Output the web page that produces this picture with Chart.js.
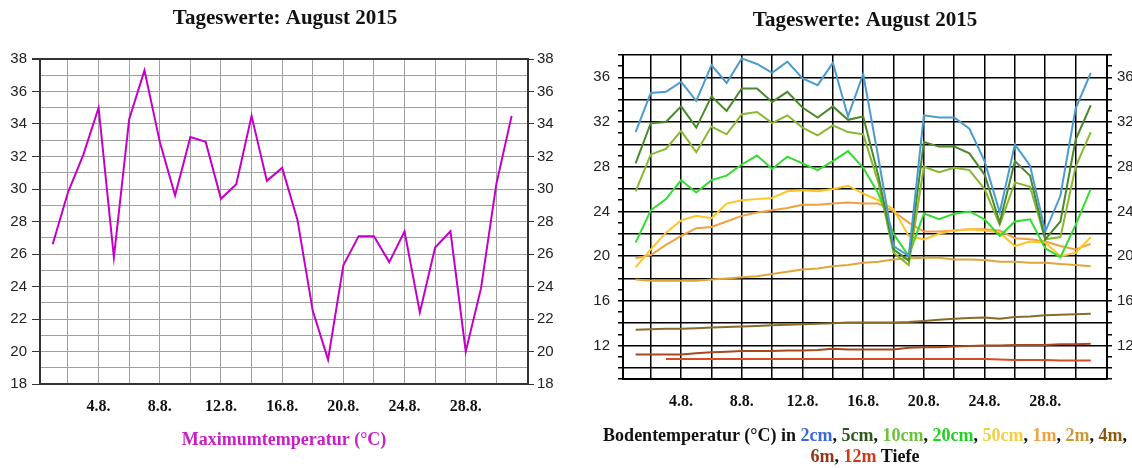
<!DOCTYPE html>
<html lang="de">
<head>
    <meta charset="UTF-8">
    <title>Tageswerte: August 2015</title>
    <script src="https://cdn.jsdelivr.net/npm/chart.js"></script>
    <style>
        html, body { margin: 0; padding: 0; overflow: hidden; background: #fff; }
        body { width: 1132px; height: 468px; position: relative; }
        #links { position: absolute; left: 0; top: 0; }
        #rechts { position: absolute; left: 580px; top: 0; }
        #legende {
            position: absolute; left: 580px; width: 570px; top: 425px;
            text-align: center; font: bold 18px "Liberation Serif", serif; line-height: 21px; color: #111;
        }
    </style>
</head>
<body>
    <canvas id="links" width="570" height="468"></canvas>
    <canvas id="rechts" width="570" height="468"></canvas>
    <div id="legende">
        Bodentemperatur (°C) in <span style="color:#3a6ad8">2cm</span>, <span style="color:#2d5a1a">5cm</span>,
        <span style="color:#6cc23a">10cm</span>, <span style="color:#1fd31f">20cm</span>,
        <span style="color:#f0d040">50cm</span>, <span style="color:#f0a040">1m</span>,
        <span style="color:#c89a30">2m</span>, <span style="color:#8a5a10">4m</span>,<br>
        <span style="color:#903818">6m</span>, <span style="color:#d03a1a">12m</span> Tiefe
    </div>

    <script>
        // Tage im August
        const tage = [1, 2, 3, 4, 5, 6, 7, 8, 9, 10, 11, 12, 13, 14, 15, 16,
                      17, 18, 19, 20, 21, 22, 23, 24, 25, 26, 27, 28, 29, 30, 31];
        const gitterTage = [2, 4, 6, 8, 10, 12, 14, 16, 18, 20, 22, 24, 26, 28, 30];
        const tickTage = [4, 8, 12, 16, 20, 24, 28];
        const tickTexte = ['4.8.', '8.8.', '12.8.', '16.8.', '20.8.', '24.8.', '28.8.'];

        // Maximumtemperatur (°C)
        const maxTemp = [26.6, 29.8, 32.1, 35.0, 25.8, 34.3, 37.3, 32.9, 29.6, 33.2, 32.9, 29.4, 30.3, 34.5, 30.5, 31.3,
                         28.1, 22.5, 19.5, 25.3, 27.1, 27.1, 25.5, 27.4, 22.4, 26.4, 27.4, 20.0, 23.9, 30.3, 34.5];

        // Bodentemperatur (°C) in verschiedenen Tiefen
        const t2cm = [31.1, 34.6, 34.7, 35.6, 33.9, 37.1, 35.5, 37.7, 37.2, 36.4, 37.4, 35.9, 35.3, 37.3, 32.5, 36.3,
                      28.8, 20.9, 20.0, 32.6, 32.4, 32.4, 31.4, 28.5, 23.9, 30.0, 28.1, 22.2, 25.4, 33.2, 36.4];
        const t5cm = [28.3, 31.9, 32.0, 33.4, 31.5, 34.3, 33.0, 35.0, 35.0, 33.8, 34.7, 33.3, 32.4, 33.4, 32.2, 32.5,
                      27.2, 20.6, 19.6, 30.2, 29.8, 29.8, 29.2, 27.3, 23.0, 28.5, 27.2, 21.5, 23.1, 30.4, 33.5];
        const t10cm = [25.8, 29.1, 29.6, 31.2, 29.3, 31.6, 30.9, 32.7, 32.9, 31.9, 32.6, 31.5, 30.8, 31.7, 31.1, 30.9,
                       26.6, 20.3, 19.2, 28.0, 27.5, 27.9, 27.7, 26.0, 22.8, 26.6, 26.2, 21.5, 21.7, 28.0, 31.1];
        const t20cm = [21.2, 24.1, 25.1, 26.8, 25.7, 26.8, 27.2, 28.2, 29.0, 27.8, 28.9, 28.3, 27.7, 28.5, 29.4, 27.9,
                       25.6, 22.0, 20.0, 23.8, 23.3, 23.8, 24.0, 23.3, 21.8, 23.1, 23.3, 20.7, 19.9, 22.8, 26.0];
        const t50cm = [19.0, 20.6, 22.1, 23.2, 23.6, 23.4, 24.7, 25.0, 25.1, 25.2, 25.8, 25.9, 25.8, 26.0, 26.3, 25.6,
                       25.0, 24.2, 21.8, 21.5, 22.0, 22.3, 22.4, 22.3, 22.1, 20.9, 21.3, 21.2, 20.0, 20.3, 21.7];
        const t1m = [19.8, 20.1, 21.0, 21.8, 22.5, 22.6, 23.1, 23.6, 23.9, 24.1, 24.3, 24.6, 24.6, 24.7, 24.8, 24.7,
                     24.7, 24.0, 23.0, 22.2, 22.2, 22.3, 22.4, 22.4, 22.3, 21.6, 21.5, 21.3, 20.9, 20.6, 21.1];
        const t2m = [17.9, 17.8, 17.8, 17.8, 17.8, 17.9, 18.0, 18.1, 18.2, 18.4, 18.6, 18.8, 18.9, 19.1, 19.2, 19.4,
                     19.5, 19.7, 19.8, 19.85, 19.85, 19.7, 19.7, 19.65, 19.5, 19.5, 19.4, 19.4, 19.3, 19.2, 19.1];
        const t4m = [13.4, 13.45, 13.5, 13.5, 13.55, 13.6, 13.65, 13.7, 13.75, 13.8, 13.85, 13.9, 13.95, 14.0, 14.05, 14.05,
                     14.05, 14.05, 14.1, 14.2, 14.3, 14.4, 14.45, 14.5, 14.4, 14.55, 14.6, 14.7, 14.75, 14.8, 14.85];
        const t6m = [11.2, 11.2, 11.2, 11.2, 11.3, 11.4, 11.45, 11.5, 11.5, 11.5, 11.55, 11.55, 11.6, 11.7, 11.65, 11.65,
                     11.65, 11.65, 11.8, 11.85, 11.85, 11.9, 11.95, 12.0, 12.0, 12.05, 12.05, 12.05, 12.1, 12.1, 12.15];
        const t12m = [null, null, 10.8, 10.8, 10.8, 10.8, 10.8, 10.8, 10.8, 10.8, 10.8, 10.8, 10.8, 10.8, 10.8, 10.8,
                      10.8, 10.8, 10.8, 10.8, 10.8, 10.8, 10.8, 10.8, 10.75, 10.7, 10.7, 10.7, 10.65, 10.65, 10.65];

        const yTicksLinks = [18, 19, 20, 21, 22, 23, 24, 25, 26, 27, 28, 29, 30, 31, 32, 33, 34, 35, 36, 37, 38];
        const yTicksRechts = [9, 10, 11, 12, 13, 14, 15, 16, 17, 18, 19, 20, 21, 22, 23, 24, 25, 26, 27, 28, 29,
                              30, 31, 32, 33, 34, 35, 36, 37, 38];

        const serif = '"Liberation Serif", "Times New Roman", serif';
        const sans = '"Liberation Sans", Arial, sans-serif';

        function punkte(werte) {
            return tage.map((t, i) => ({ x: t, y: werte[i] }));
        }

        function xBeschriftung(v) {
            const i = tickTage.indexOf(v);
            return i >= 0 ? tickTexte[i] : '';
        }

        function xAchse(gitterFarbe, gitterBreite, hoehe, titel) {
            return {
                type: 'linear',
                min: 0.17,
                max: 32.07,
                afterBuildTicks: s => { s.ticks = gitterTage.map(v => ({ value: v })); },
                afterFit: s => { s.height = hoehe; },
                ticks: {
                    autoSkip: false, maxRotation: 0, padding: 13, color: '#111',
                    font: { family: serif, size: 16, weight: 'bold' },
                    callback: xBeschriftung
                },
                grid: { color: gitterFarbe, lineWidth: gitterBreite, drawTicks: false },
                border: { color: gitterFarbe === '#000' ? '#000' : '#333', width: 2 },
                title: titel
            };
        }

        const titelSchrift = { family: serif, size: 21, weight: 'bold', lineHeight: 1.2 };

        // Linkes Diagramm: Maximumtemperatur
        new Chart(document.getElementById('links'), {
            type: 'line',
            data: {
                datasets: [{
                    label: 'Maximumtemperatur',
                    data: punkte(maxTemp),
                    borderColor: '#c400c8',
                    borderWidth: 2,
                    pointRadius: 0,
                    tension: 0
                }]
            },
            options: {
                responsive: false,
                animation: false,
                devicePixelRatio: 1,
                layout: { padding: 0 },
                plugins: {
                    legend: { display: false },
                    tooltip: { enabled: false },
                    title: {
                        display: true,
                        text: 'Tageswerte: August 2015',
                        color: '#111',
                        font: titelSchrift,
                        padding: { top: 6, bottom: 27.8 }
                    }
                },
                scales: {
                    x: xAchse('#a0a0a0', 1, 84, {
                        display: true,
                        text: 'Maximumtemperatur (°C)',
                        color: '#c81ec8',
                        font: { family: serif, size: 18, weight: 'bold', lineHeight: 1.2 },
                        padding: { top: 0, bottom: 17 }
                    }),
                    y: {
                        min: 18, max: 38,
                        afterBuildTicks: s => { s.ticks = yTicksLinks.map(v => ({ value: v })); },
                        afterFit: s => { s.width = 40; },
                        ticks: {
                            autoSkip: false, padding: 5, color: '#222',
                            font: { family: sans, size: 15 },
                            callback: v => v % 2 === 0 ? v : ''
                        },
                        grid: {
                            color: c => c.tick && c.tick.value === 38 ? '#333' : '#a0a0a0',
                            lineWidth: c => c.tick && c.tick.value === 38 ? 2 : 1,
                            tickLength: 8,
                            tickColor: c => c.tick && c.tick.value % 2 === 0 ? '#333' : 'rgba(0,0,0,0)'
                        },
                        border: { color: '#333', width: 2 }
                    },
                    y2: {
                        position: 'right',
                        min: 18, max: 38,
                        afterBuildTicks: s => { s.ticks = yTicksLinks.map(v => ({ value: v })); },
                        afterFit: s => { s.width = 42; },
                        ticks: {
                            autoSkip: false, padding: 3, color: '#222',
                            font: { family: sans, size: 15 },
                            callback: v => v % 2 === 0 ? v : ''
                        },
                        grid: {
                            drawOnChartArea: false,
                            tickLength: 6,
                            tickColor: c => c.tick && c.tick.value % 2 === 0 ? '#333' : 'rgba(0,0,0,0)'
                        },
                        border: { color: '#333', width: 2 }
                    }
                }
            }
        });

        // Rechtes Diagramm: Bodentemperaturen
        const reihen = [
            { label: '2cm', werte: t2cm, farbe: '#4a9cd0' },
            { label: '5cm', werte: t5cm, farbe: '#4a8a2a' },
            { label: '10cm', werte: t10cm, farbe: '#88b830' },
            { label: '20cm', werte: t20cm, farbe: '#30dd30' },
            { label: '50cm', werte: t50cm, farbe: '#ffc428' },
            { label: '1m', werte: t1m, farbe: '#f0a040' },
            { label: '2m', werte: t2m, farbe: '#dca838' },
            { label: '4m', werte: t4m, farbe: '#8c6a28' },
            { label: '6m', werte: t6m, farbe: '#a84820' },
            { label: '12m', werte: t12m, farbe: '#d84a20' }
        ];

        function rechteYAchse(seite, breite, abstand) {
            return {
                position: seite,
                min: 9, max: 38,
                afterBuildTicks: s => { s.ticks = yTicksRechts.map(v => ({ value: v })); },
                afterFit: s => { s.width = breite; },
                ticks: {
                    autoSkip: false, padding: abstand, color: '#222',
                    font: { family: sans, size: 15 },
                    callback: v => v % 4 === 0 ? v : ''
                },
                grid: {
                    drawOnChartArea: seite === 'left',
                    color: c => c.tick && c.tick.value % 2 === 0 ? '#000' : 'rgba(0,0,0,0)',
                    lineWidth: 1.5,
                    tickLength: 5,
                    tickColor: '#000'
                },
                border: { color: '#000', width: 2 }
            };
        }

        new Chart(document.getElementById('rechts'), {
            type: 'line',
            data: {
                datasets: reihen.map(r => ({
                    label: r.label,
                    data: punkte(r.werte),
                    borderColor: r.farbe,
                    borderWidth: 2,
                    pointRadius: 0,
                    tension: 0,
                    spanGaps: false
                }))
            },
            options: {
                responsive: false,
                animation: false,
                devicePixelRatio: 1,
                layout: { padding: 0 },
                plugins: {
                    legend: { display: false },
                    tooltip: { enabled: false },
                    title: {
                        display: true,
                        text: 'Tageswerte: August 2015',
                        color: '#111',
                        font: titelSchrift,
                        padding: { top: 8, bottom: 21.8 }
                    }
                },
                scales: {
                    x: xAchse('#000', 1.5, 89, { display: false }),
                    y: rechteYAchse('left', 43, 8),
                    y2: rechteYAchse('right', 43, 5)
                }
            }
        });
    </script>
</body>
</html>
